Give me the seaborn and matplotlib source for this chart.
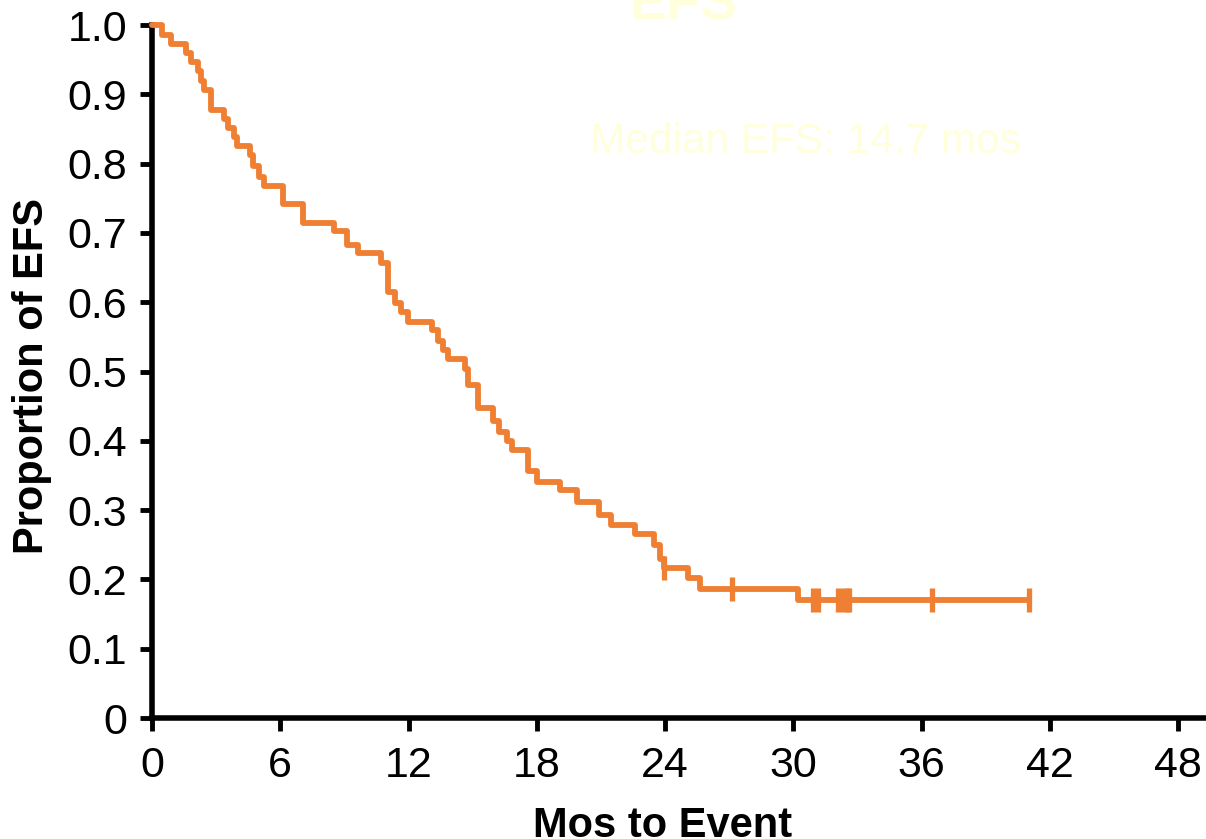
import numpy as np
import pandas as pd
import seaborn as sns
import matplotlib
matplotlib.use('Agg')
import matplotlib.pyplot as plt

# step points of the Kaplan-Meier curve (months, proportion event free)
months = [0, 0.47, 0.88, 1.58, 1.81, 2.17, 2.28, 2.44, 2.75, 3.35, 3.54, 3.82, 3.98,
          4.60, 4.71, 5.02, 5.23, 6.12, 7.06, 8.51, 9.12, 9.64, 10.69, 11.05, 11.36,
          11.67, 11.99, 13.08, 13.36, 13.63, 13.86, 14.65, 14.80, 15.27, 15.95, 16.21,
          16.60, 16.84, 17.59, 18.00, 19.10, 19.89, 20.90, 21.46, 22.58, 23.49, 23.77,
          23.96, 25.05, 25.65, 30.20, 41.0]
efs = [1.0, 0.986, 0.972, 0.959, 0.946, 0.934, 0.919, 0.906, 0.877, 0.865, 0.852, 0.839,
       0.826, 0.812, 0.796, 0.780, 0.767, 0.742, 0.714, 0.703, 0.683, 0.671, 0.656, 0.615,
       0.599, 0.586, 0.572, 0.560, 0.544, 0.531, 0.518, 0.503, 0.481, 0.447, 0.429, 0.413,
       0.400, 0.387, 0.356, 0.340, 0.329, 0.311, 0.293, 0.278, 0.266, 0.250, 0.230, 0.217,
       0.2015, 0.186, 0.170, 0.170]

# censored patients
censored = [23.96, 27.15, 30.9, 31.15, 32.1, 32.3, 32.5, 32.6, 36.5, 41.0]

x_ticks = [0, 6, 12, 18, 24, 30, 36, 42, 48]
y_ticks = [0, 0.1, 0.2, 0.3, 0.4, 0.5, 0.6, 0.7, 0.8, 0.9, 1.0]
y_tick_labels = ['0', '0.1', '0.2', '0.3', '0.4', '0.5', '0.6', '0.7', '0.8', '0.9', '1.0']

orange = '#EF7F32'
pale = '#FFFFDC'

sns.set_style('ticks')
plt.rcParams['font.family'] = ['Liberation Sans', 'DejaVu Sans']

curve = pd.DataFrame({'Months': months, 'EFS': efs})
# survival level at each censor time
idx = np.searchsorted(np.array(months), np.array(censored), side='right') - 1
cens = pd.DataFrame({'Months': censored, 'EFS': np.array(efs)[idx]})

fig = plt.figure(figsize=(12.06, 8.39), dpi=100)
ax = fig.add_axes([0.126, 0.1442, 0.874, 0.826])

sns.lineplot(data=curve, x='Months', y='EFS', drawstyle='steps-post', estimator=None,
             color=orange, linewidth=4.2, ax=ax, clip_on=False, zorder=3)
sns.scatterplot(data=cens, x='Months', y='EFS', marker='|', s=280, linewidth=3.8,
                color=orange, ax=ax, zorder=4, clip_on=False)

ax.set_xlim(0, 49.3)
ax.set_ylim(0, 1.0)
ax.set_xticks(x_ticks)
ax.set_yticks(y_ticks)
ax.set_yticklabels(y_tick_labels)

for side in ['left', 'bottom']:
    ax.spines[side].set_linewidth(4)
    ax.spines[side].set_color('black')
sns.despine(ax=ax)

ax.tick_params(axis='both', direction='out', length=9, width=3.5, labelsize=31,
               colors='black', labelcolor='black')
ax.tick_params(axis='x', pad=11)
ax.tick_params(axis='y', pad=9)

ax.set_xlabel('Mos to Event', fontsize=30, fontweight='bold', color='black')
ax.set_ylabel('Proportion of EFS', fontsize=30, fontweight='bold', color='black')
ax.xaxis.label.set_va('baseline')
ax.yaxis.label.set_va('baseline')
ax.xaxis.set_label_coords(0.484, -0.1717)
ax.yaxis.set_label_coords(-0.1037, 0.4935)

# faded annotations
fig.text(683 / 1206, 1 - 19 / 839, 'EFS', ha='center', va='baseline', fontsize=40,
         fontweight='bold', color=pale)
fig.text(590 / 1206, 1 - 153 / 839, 'Median EFS: 14.7 mos', ha='left', va='baseline',
         fontsize=30.5, color=pale)

fig.savefig('out.png', dpi=100)
